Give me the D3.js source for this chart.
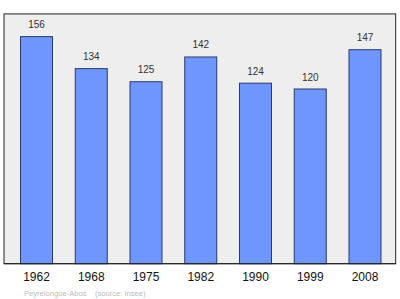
<!DOCTYPE html>
<html><head><meta charset="utf-8">
<script src="https://cdn.jsdelivr.net/npm/d3@7"></script>
<style>body{margin:0;background:#fff}svg{display:block}</style>
</head><body>
<svg id="c" width="400" height="299"></svg>
<script>
const years = ["1962","1968","1975","1982","1990","1999","2008"];
const population = [156,134,125,142,124,120,147];
const sourceText = "Peyrelongue-Abos    (source: Insee)";

const svg = d3.select("#c");
const plot = {l:4, t:13.9, r:395.7, b:263.7};

svg.append("rect").attr("x",plot.l).attr("y",plot.t)
  .attr("width",plot.r-plot.l).attr("height",plot.b-plot.t)
  .attr("fill","#eeeeee").attr("stroke","#222").attr("stroke-width",1);

const x = d3.scaleBand().domain(years).range([9.125,392.375])
  .paddingInner(0.4155).paddingOuter(0.2078);
const y = d3.scaleLinear().domain([0, d3.max(population)*1.1]).range([plot.b, plot.t]);

svg.selectAll("rect.bar").data(population).enter().append("rect")
  .attr("class","bar")
  .attr("x",(d,i)=>x(years[i]))
  .attr("y",d=>y(d))
  .attr("width",x.bandwidth())
  .attr("height",d=>y(0)-y(d))
  .attr("fill","#6f96ff").attr("stroke","#2a3a66").attr("stroke-width",1);

svg.selectAll("text.val").data(population).enter().append("text")
  .attr("x",(d,i)=>x(years[i])+x.bandwidth()/2)
  .attr("y",d=>y(d)-8.5)
  .attr("text-anchor","middle")
  .attr("font-family","Liberation Sans, Arial, sans-serif")
  .attr("font-size",10).attr("fill","#333")
  .text(d=>d);

const ax = svg.append("g").attr("transform",`translate(0,${plot.b})`)
  .call(d3.axisBottom(x).tickSize(0).tickPadding(8.7));
ax.select(".domain").remove();
ax.selectAll("text").attr("font-family","Liberation Sans, Arial, sans-serif")
  .attr("font-size",12).attr("fill","#111");

svg.append("rect").attr("x",plot.l).attr("y",plot.b-0.5).attr("width",plot.r-plot.l).attr("height",1).attr("fill","#222");

svg.append("text").attr("x",24).attr("y",295.5)
  .attr("font-family","Liberation Sans, Arial, sans-serif")
  .attr("font-size",7.6).attr("fill","#bbb")
  .attr("xml:space","preserve").style("white-space","pre")
  .text(sourceText);
</script>
</body></html>
